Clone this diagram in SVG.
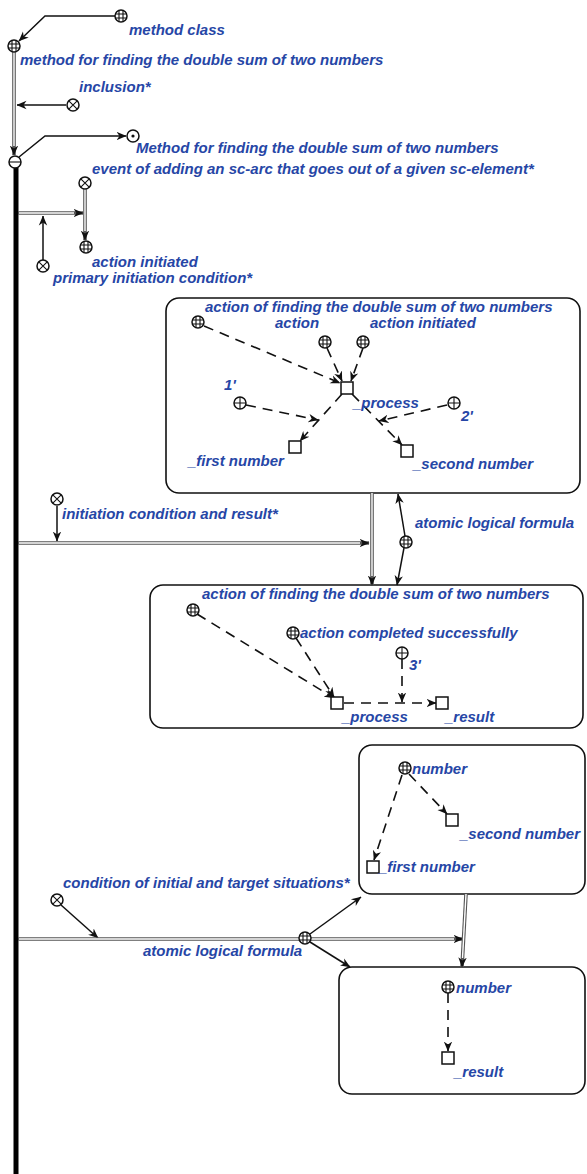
<svg xmlns="http://www.w3.org/2000/svg" xmlns:xlink="http://www.w3.org/1999/xlink" width="587" height="1174" viewBox="0 0 587 1174">
<style>
.t{font-family:"Liberation Sans",Arial,sans-serif;font-size:15px;font-weight:bold;font-style:italic;fill:#2646a6}
.ln{fill:none;stroke:#111;stroke-width:1.5}
.ds{fill:none;stroke:#111;stroke-width:1.6;stroke-dasharray:10 7}
.dbo{fill:none;stroke:#555;stroke-width:3.6}
.dbi{fill:none;stroke:#fff;stroke-width:1.4}
.box{fill:#fff;stroke:#111;stroke-width:1.6}
.sym circle,.sym rect{fill:#fff;stroke:#111;stroke-width:1.5}
.sym path{fill:none;stroke:#111;stroke-width:1.1}
</style>
<defs>
<marker id="ah" viewBox="0 0 10 10" refX="9.5" refY="5" markerWidth="10" markerHeight="10" markerUnits="userSpaceOnUse" orient="auto"><path d="M0,0.8 L10,5 L0,9.2 L3,5 z" fill="#111"/></marker>
<g id="cls" class="sym"><circle r="6"/><path d="M-2,-5.6V5.6M2,-5.6V5.6M-5.6,-2H5.6M-5.6,2H5.6"/></g>
<g id="rel" class="sym"><circle r="6"/><path d="M-4.2,-4.2L4.2,4.2M-4.2,4.2L4.2,-4.2"/></g>
<g id="role" class="sym"><circle r="6"/><path d="M0,-6V6M-6,0H6"/></g>
<g id="neg" class="sym"><circle r="6"/><path d="M-6,0H6"/></g>
<g id="dotn" class="sym"><circle r="6"/><circle r="1.6" style="fill:#111;stroke:none"/></g>
<g id="var" class="sym"><rect x="-6" y="-6" width="12" height="12"/></g>
</defs>
<rect width="587" height="1174" fill="#fff"/>

<!-- boxes -->
<g id="box1"><rect class="box" x="166" y="298" width="414" height="195" rx="13"/></g>
<g id="box2"><rect class="box" x="150" y="585" width="433" height="143" rx="13"/></g>
<g id="box3"><rect class="box" x="359" y="745" width="226" height="149" rx="13"/></g>
<g id="box4"><rect class="box" x="339" y="967" width="246" height="127" rx="13"/></g>

<!-- connectors -->
<g id="connectors">
<path class="ln" d="M115,16 L45,16 L19,41" marker-end="url(#ah)"/>
<path class="ln" d="M66,105 L17,105" marker-end="url(#ah)"/>
<path class="dbo" d="M14,52 L14,155" marker-end="url(#ah)"/>
<path class="dbi" d="M14,52 L14,146"/>
<path class="ln" d="M19,157 L45,136 L126,136" marker-end="url(#ah)"/>
<path fill="none" stroke="#000" stroke-width="5" d="M16,166 L16,1174"/>
<path class="dbo" d="M85,189 L85,240" marker-end="url(#ah)"/>
<path class="dbi" d="M85,189 L85,231"/>
<path class="dbo" d="M18,213 L83,213" marker-end="url(#ah)"/>
<path class="dbi" d="M19,213 L74,213"/>
<path class="ln" d="M43,260 L43,216" marker-end="url(#ah)"/>

<path class="ds" d="M204,326 L340,383" marker-end="url(#ah)"/>
<path class="ds" d="M327,348 L342,381" stroke-dasharray="30 4" marker-end="url(#ah)"/>
<path class="ds" d="M363,348 L351,381" stroke-dasharray="30 4" marker-end="url(#ah)"/>
<path class="ds" d="M342,394 L300,441" marker-end="url(#ah)"/>
<path class="ds" d="M352,394 L402,445" marker-end="url(#ah)"/>
<path class="ds" d="M246,405 L318,420" marker-end="url(#ah)"/>
<path class="ds" d="M447,405 L379,421" marker-end="url(#ah)"/>

<path class="dbo" d="M18,543 L369,543" marker-end="url(#ah)"/>
<path class="dbi" d="M19,543 L360,543"/>
<path class="ln" d="M57,506 L57,541" marker-end="url(#ah)"/>
<path class="dbo" d="M372,493 L372,585" marker-end="url(#ah)"/>
<path class="dbi" d="M372,493 L372,576"/>
<path class="ln" d="M405,536 L398,494" marker-end="url(#ah)"/>
<path class="ln" d="M404,548 L397,585" marker-end="url(#ah)"/>

<path class="ds" d="M197,614 L334,698" marker-end="url(#ah)"/>
<path class="ds" d="M296,638 L334,697" marker-end="url(#ah)"/>
<path class="ds" d="M344,703 L436,703" marker-end="url(#ah)"/>
<path class="ds" d="M402,659 L402,702" stroke-dasharray="18 8" marker-end="url(#ah)"/>

<path class="ds" d="M402,775 L374,860" marker-end="url(#ah)"/>
<path class="ds" d="M409,774 L447,814" marker-end="url(#ah)"/>

<path class="ln" d="M61,905 L98,938" marker-end="url(#ah)"/>
<path class="dbo" d="M18,939 L463,939" marker-end="url(#ah)"/>
<path class="dbi" d="M19,939 L454,939"/>
<path class="ln" d="M310,934 L361,897" marker-end="url(#ah)"/>
<path class="ln" d="M310,942 L350,967" marker-end="url(#ah)"/>
<path class="dbo" d="M466,894 L462,967" marker-end="url(#ah)"/>
<path class="dbi" d="M466,894 L462.5,958"/>

<path class="ds" d="M448,993 L448,1051" stroke-dasharray="16 8" marker-end="url(#ah)"/>
</g>

<!-- nodes -->
<g id="n-method-class"><use href="#cls" x="121" y="16"/><text class="t" x="129" y="35">method class</text></g>
<g id="n-method"><use href="#cls" x="14" y="46"/><text class="t" x="20" y="65">method for finding the double sum of two numbers</text></g>
<g id="n-inclusion"><use href="#rel" x="73" y="105"/><text class="t" x="79" y="92">inclusion*</text></g>
<g id="n-neg"><use href="#neg" x="15" y="162"/></g>
<g id="n-method-cap"><use href="#dotn" x="133" y="136"/><text class="t" x="136" y="153">Method for finding the double sum of two numbers</text></g>
<g id="n-event"><use href="#rel" x="85" y="183"/><text class="t" x="92" y="174">event of adding an sc-arc that goes out of a given sc-element*</text></g>
<g id="n-action-initiated"><use href="#cls" x="86" y="247"/><text class="t" x="92" y="267">action initiated</text></g>
<g id="n-primary"><use href="#rel" x="43" y="266"/><text class="t" x="53" y="283">primary initiation condition*</text></g>

<g id="b1-content">
<text class="t" x="205" y="312">action of finding the double sum of two numbers</text>
<use href="#cls" x="198" y="322"/>
<text class="t" x="275" y="328">action</text>
<use href="#cls" x="325" y="342"/>
<text class="t" x="370" y="328">action initiated</text>
<use href="#cls" x="363" y="342"/>
<use href="#var" x="347" y="388"/>
<text class="t" x="353" y="408">_process</text>
<text class="t" x="224" y="390">1'</text>
<use href="#role" x="240" y="403"/>
<use href="#role" x="454" y="403"/>
<text class="t" x="461" y="421">2'</text>
<use href="#var" x="295" y="447"/>
<text class="t" x="188" y="466">_first number</text>
<use href="#var" x="407" y="451"/>
<text class="t" x="413" y="469">_second number</text>
</g>

<g id="n-init-cond"><use href="#rel" x="57" y="499"/><text class="t" x="62" y="519">initiation condition and result*</text></g>
<g id="n-alf1"><use href="#cls" x="406" y="542"/><text class="t" x="415" y="528">atomic logical formula</text></g>

<g id="b2-content">
<text class="t" x="202" y="599">action of finding the double sum of two numbers</text>
<use href="#cls" x="193" y="610"/>
<use href="#cls" x="293" y="633"/>
<text class="t" x="300" y="638">action completed successfully</text>
<use href="#role" x="402" y="653"/>
<text class="t" x="409" y="670">3'</text>
<use href="#var" x="337" y="703"/>
<text class="t" x="342" y="722">_process</text>
<use href="#var" x="442" y="703"/>
<text class="t" x="445" y="722">_result</text>
</g>

<g id="b3-content">
<use href="#cls" x="405" y="768"/>
<text class="t" x="412" y="774">number</text>
<use href="#var" x="452" y="820"/>
<text class="t" x="460" y="839">_second number</text>
<use href="#var" x="373" y="867"/>
<text class="t" x="379" y="872">_first number</text>
</g>

<g id="n-cond-sit"><use href="#rel" x="57" y="900"/><text class="t" x="63" y="888">condition of initial and target situations*</text></g>
<g id="n-alf2"><use href="#cls" x="305" y="938"/><text class="t" x="143" y="956">atomic logical formula</text></g>

<g id="b4-content">
<use href="#cls" x="448" y="987"/>
<text class="t" x="456" y="993">number</text>
<use href="#var" x="448" y="1058"/>
<text class="t" x="454" y="1077">_result</text>
</g>
</svg>
